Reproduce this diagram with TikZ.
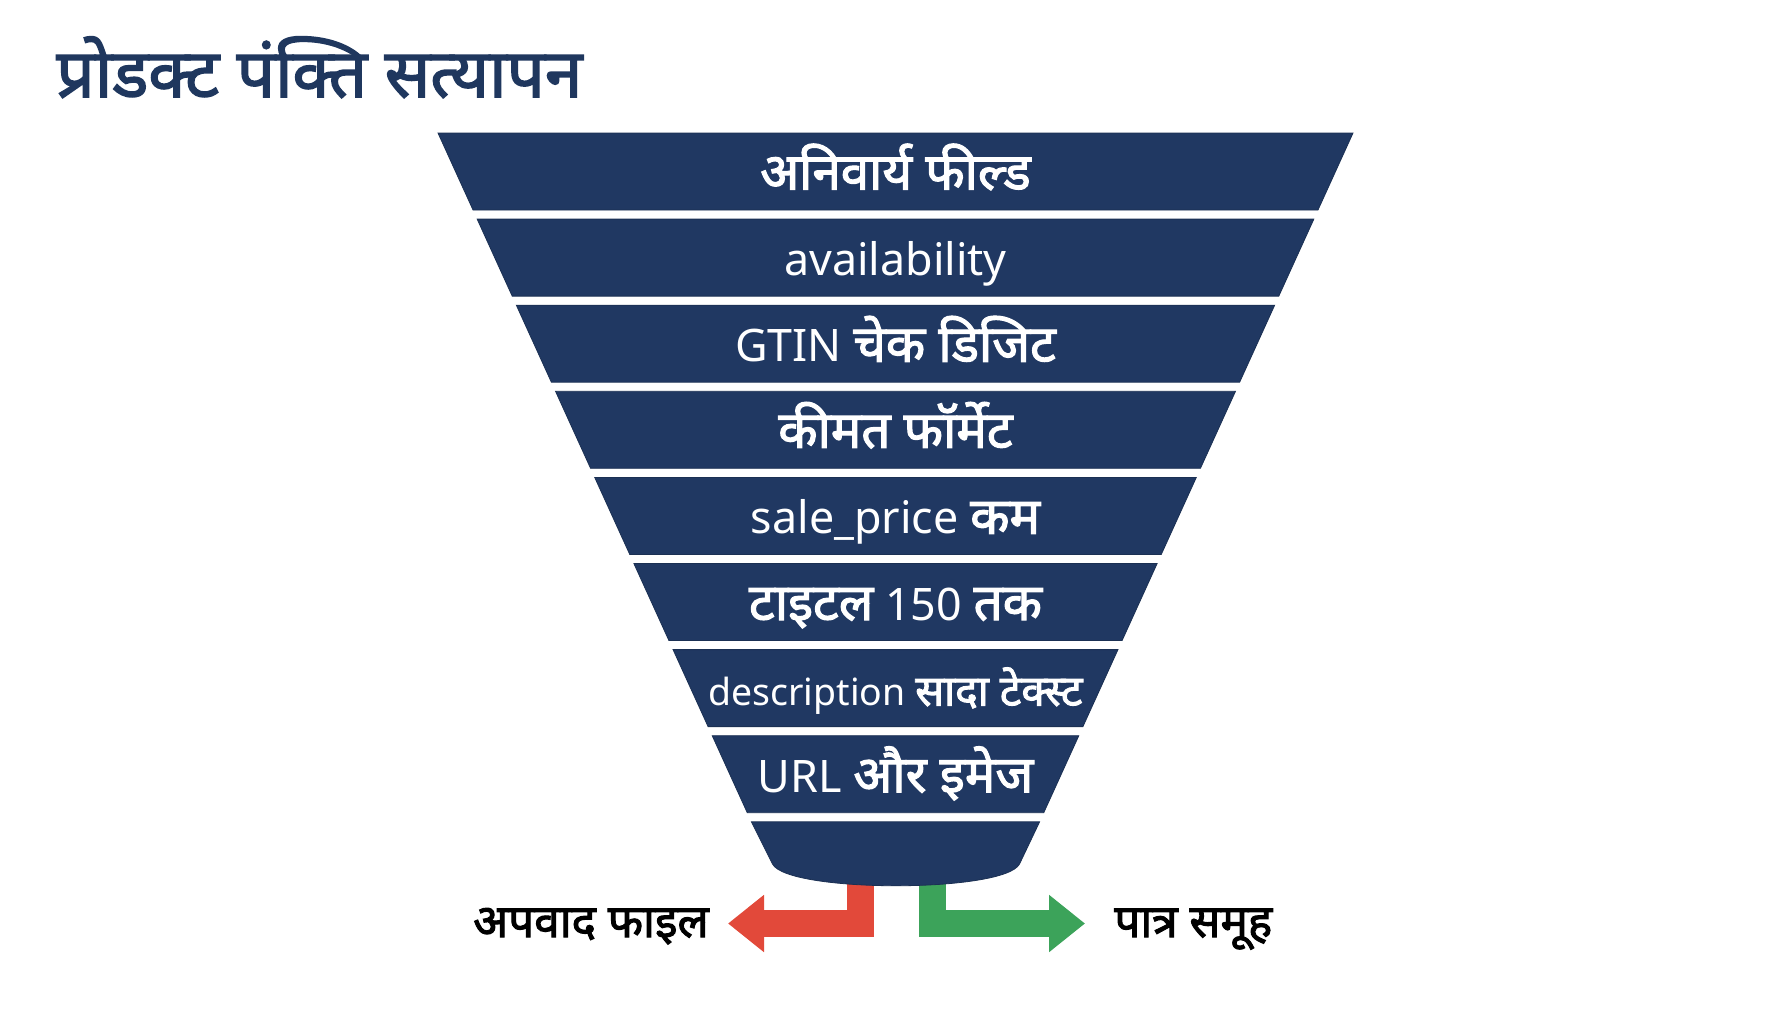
\documentclass[tikz,border=0pt]{standalone}
\usepackage{fontspec}
\setmainfont{Noto Sans}
\newfontfamily\devb[Script=Devanagari, FakeBold=2.2, Scale=1.14]{Noto Sans}
\usetikzlibrary{arrows.meta}
\definecolor{navy}{RGB}{32,56,98}
\definecolor{titlecol}{RGB}{31,55,94}
\definecolor{redarr}{RGB}{226,73,58}
\definecolor{greenarr}{RGB}{60,163,90}
\tikzset{
  band/.style={fill=navy, draw=navy!85!black, line width=0.4pt},
  bandtext/.style={anchor=base, text=white, inner sep=0pt, font=\fontsize{22.4pt}{26pt}\selectfont},
  outlabel/.style={text=black, inner sep=0pt, font=\devb\fontsize{20.1pt}{24pt}\selectfont},
  fatarrow/.style={line width=13.5pt, line join=miter, -{Triangle[length=18pt,width=27.5pt]}},
}
\newcommand{\dv}[1]{{\devb #1}}
\begin{document}
\begin{tikzpicture}[x=0.5pt,y=-0.5pt]
\useasboundingbox (0,0) rectangle (1792,1008);
\fill[white] (0,0) rectangle (1792,1008);

% title
\node[anchor=base west, inner sep=0pt, text=titlecol, font=\devb\fontsize{29.6pt}{34pt}\selectfont] (title) at (56,97) {प्रोडक्ट पंक्ति सत्यापन};

% arrows (drawn first, stems hidden under funnel)
\coordinate (rs) at (860,868);
\coordinate (rtip) at (728,923.5);
\coordinate (gs) at (932,868);
\coordinate (gtip) at (1085,923.5);
\draw[fatarrow, redarr] (rs) |- (rtip);
\draw[fatarrow, greenarr] (gs) |- (gtip);

% funnel bands
\foreach \k in {0,...,7}{
  \pgfmathsetmacro\yt{133+86.1*\k}
  \pgfmathsetmacro\yb{\yt+77}
  \fill[band] ({438+0.455*(\yt-133)},\yt) -- ({1353-0.455*(\yt-133)},\yt)
     -- ({1353-0.455*(\yb-133)},\yb) -- ({438+0.455*(\yb-133)},\yb) -- cycle;
}
\fill[band] (751.4,821.8) -- (1039.6,821.8) -- (1019.5,864)
   .. controls (1004,893) and (788,893) .. (772.5,864) -- cycle;

% band texts (baseline = band centre + 18)
\node[bandtext] (t1) at (895.5,189.5) {\dv{अनिवार्य फील्ड}};
\node[bandtext] (t2) at (895.5,275.6) {availability};
\node[bandtext] (t3) at (895.5,361.7) {GTIN \dv{चेक डिजिट}};
\node[bandtext] (t4) at (895.5,447.8) {\dv{कीमत फॉर्मेट}};
\node[bandtext] (t5) at (895.5,533.9) {sale\_price \dv{कम}};
\node[bandtext] (t6) at (895.5,620.0) {\dv{टाइटल} 150 \dv{तक}};
\node[bandtext, font=\fontsize{18.7pt}{23pt}\selectfont] (t7) at (895.5,705.6) {description \dv{सादा टेक्स्ट}};
\node[bandtext] (t8) at (895.5,792.2) {URL \dv{और इमेज}};

% outcome labels
\node[outlabel, anchor=base east] (bad) at (709,937) {अपवाद फाइल};
\node[outlabel, anchor=base west] (good) at (1114,937) {पात्र समूह};
\end{tikzpicture}
\end{document}
